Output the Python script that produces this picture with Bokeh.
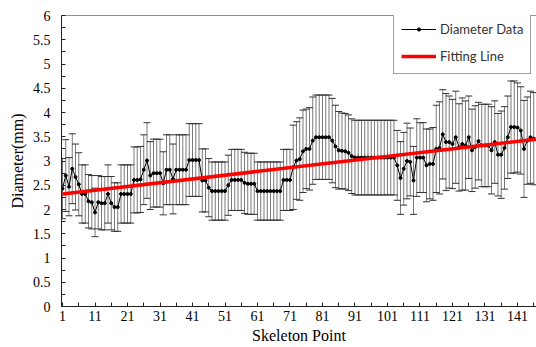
from bokeh.plotting import figure
from bokeh.models import (ColumnDataSource, Whisker, TeeHead, FixedTicker, Legend,
                          LegendItem, Span, Range1d, CustomJSTickFormatter)
from bokeh.embed import file_html
from bokeh.resources import INLINE

# ---- data ----
skeleton_point = list(range(1, 147))
diameter_mean = [
    2.43, 2.70, 2.47, 2.84, 2.67, 2.52, 2.32, 2.32, 2.17, 2.15,
    1.94, 2.15, 2.13, 2.13, 2.32, 2.13, 2.05, 2.05, 2.32, 2.32,
    2.32, 2.32, 2.61, 2.61, 2.62, 2.82, 3.01, 2.70, 2.75, 2.75,
    2.75, 2.54, 2.82, 2.82, 2.63, 2.82, 2.82, 2.82, 2.82, 3.02,
    3.02, 3.02, 3.02, 2.60, 2.60, 2.45, 2.38, 2.38, 2.38, 2.38,
    2.38, 2.50, 2.61, 2.61, 2.61, 2.61, 2.55, 2.53, 2.53, 2.53,
    2.38, 2.38, 2.38, 2.38, 2.38, 2.38, 2.38, 2.38, 2.61, 2.61,
    2.61, 2.87, 3.01, 3.04, 3.20, 3.25, 3.25, 3.42, 3.49, 3.49,
    3.49, 3.49, 3.49, 3.42, 3.30, 3.22, 3.21, 3.20, 3.17, 3.10,
    3.07, 3.07, 3.07, 3.07, 3.07, 3.07, 3.07, 3.07, 3.07, 3.07,
    3.07, 3.07, 3.07, 2.91, 2.65, 2.84, 3.00, 2.98, 2.60, 3.07,
    3.07, 3.07, 2.91, 2.94, 2.94, 3.25, 3.27, 3.55, 3.39, 3.39,
    3.35, 3.49, 3.28, 3.35, 3.32, 3.49, 3.22, 3.29, 3.41, 3.32,
    3.32, 3.32, 3.22, 3.39, 3.13, 3.13, 3.27, 3.49, 3.70, 3.70,
    3.69, 3.63, 3.25, 3.42, 3.49, 3.46,
]
diameter_err = [
    0.62, 0.74, 0.60, 0.72, 0.68, 0.65, 0.60, 0.60, 0.55, 0.55,
    0.50, 0.55, 0.55, 0.55, 0.60, 0.55, 0.50, 0.50, 0.60, 0.60,
    0.60, 0.60, 0.68, 0.68, 0.68, 0.72, 0.78, 0.70, 0.70, 0.70,
    0.70, 0.65, 0.72, 0.72, 0.72, 0.72, 0.72, 0.72, 0.72, 0.75,
    0.75, 0.75, 0.75, 0.65, 0.65, 0.60, 0.60, 0.60, 0.60, 0.60,
    0.60, 0.62, 0.63, 0.63, 0.63, 0.63, 0.63, 0.63, 0.63, 0.63,
    0.60, 0.60, 0.60, 0.60, 0.60, 0.60, 0.60, 0.60, 0.63, 0.63,
    0.63, 0.87, 0.80, 0.85, 0.85, 0.82, 0.85, 0.90, 0.87, 0.87,
    0.87, 0.87, 0.87, 0.87, 0.85, 0.80, 0.78, 0.78, 0.78, 0.77,
    0.77, 0.77, 0.77, 0.77, 0.77, 0.77, 0.77, 0.77, 0.77, 0.77,
    0.77, 0.77, 0.77, 0.72, 0.75, 0.75, 0.78, 0.70, 0.70, 0.80,
    0.72, 0.72, 0.75, 0.72, 0.75, 0.90, 0.95, 0.92, 1.00, 0.95,
    0.92, 0.95, 0.90, 0.95, 0.92, 0.85, 0.85, 0.85, 0.80, 0.85,
    0.85, 0.85, 0.90, 0.85, 0.85, 0.90, 0.85, 0.85, 0.95, 0.95,
    0.92, 0.90, 1.00, 0.90, 0.95, 0.95,
]
fit_x = [1, 147]
fit_y = [2.32, 3.45]
x_ticks = [1, 11, 21, 31, 41, 51, 61, 71, 81, 91, 101, 111, 121, 131, 141]
x_minor = [6, 16, 26, 36, 46, 56, 66, 76, 86, 96, 106, 116, 126, 136, 146]
y_ticks = [0, 0.5, 1, 1.5, 2, 2.5, 3, 3.5, 4, 4.5, 5, 5.5, 6]
y_minor = [0.25, 0.75, 1.25, 1.75, 2.25, 2.75, 3.25, 3.75, 4.25, 4.75, 5.25, 5.75]

src = ColumnDataSource(dict(
    x=skeleton_point,
    mean=diameter_mean,
    upper=[m + e for m, e in zip(diameter_mean, diameter_err)],
    lower=[m - e for m, e in zip(diameter_mean, diameter_err)],
))

p = figure(width=536, height=347, output_backend="svg", toolbar_location=None,
           x_range=Range1d(0.69, 146.85), y_range=Range1d(0, 6),
           min_border_left=61, min_border_right=0, min_border_top=15,
           min_border_bottom=41)
p.outline_line_color = None
p.grid.visible = False
p.background_fill_color = "white"
p.border_fill_color = "white"

whisk = Whisker(source=src, base="x", upper="upper", lower="lower",
                line_color="#7a7a7a", line_width=1,
                upper_head=TeeHead(size=7, line_color="#333333", line_width=1),
                lower_head=TeeHead(size=7, line_color="#333333", line_width=1))
p.add_layout(whisk)

data_line = p.line("x", "mean", source=src, line_color="black", line_width=1)
data_pts = p.scatter("x", "mean", source=src, size=3, color="black")
fit_line = p.line(fit_x, fit_y, line_color="#ff0000", line_width=3.5)

p.add_layout(Span(location=6, dimension="width", line_color="#222222", line_width=1))

fmt = CustomJSTickFormatter(code="return String(tick);")
for ax, ticks, minor in ((p.xaxis, x_ticks, x_minor), (p.yaxis, y_ticks, y_minor)):
    ax.ticker = FixedTicker(ticks=ticks, minor_ticks=minor)
    ax.formatter = fmt
    ax.major_tick_in = 4
    ax.major_tick_out = 0
    ax.minor_tick_in = 4
    ax.minor_tick_out = 0
    ax.axis_line_color = "#222222"
    ax.major_tick_line_color = "#222222"
    ax.minor_tick_line_color = "#222222"
    ax.major_label_text_font = "Liberation Serif"
    ax.major_label_text_font_size = "14px"
    ax.major_label_text_color = "black"
    ax.axis_label_text_font = "Liberation Serif"
    ax.axis_label_text_font_size = "16px"
    ax.axis_label_text_font_style = "normal"
    ax.axis_label_text_color = "black"

p.xaxis.axis_label = "Skeleton Point"
p.yaxis.axis_label = "Diameter(mm)"
p.xaxis.major_label_standoff = 4
p.xaxis.axis_label_standoff = 3
p.yaxis.major_label_standoff = 11
p.yaxis.axis_label_standoff = 4

legend = Legend(items=[LegendItem(label="Diameter Data", renderers=[data_line, data_pts]),
                       LegendItem(label="Fitting Line", renderers=[fit_line])],
                location=(332, 232), orientation="vertical",
                border_line_color="#404040", border_line_width=1,
                background_fill_color="white", background_fill_alpha=1,
                label_text_font="Lato", label_text_font_size="13px",
                label_text_color="#333333", glyph_width=35, glyph_height=8,
                label_height=20, label_standoff=4, spacing=7, padding=7, margin=0)
p.add_layout(legend)

open("out.html", "w").write(file_html(p, INLINE))
